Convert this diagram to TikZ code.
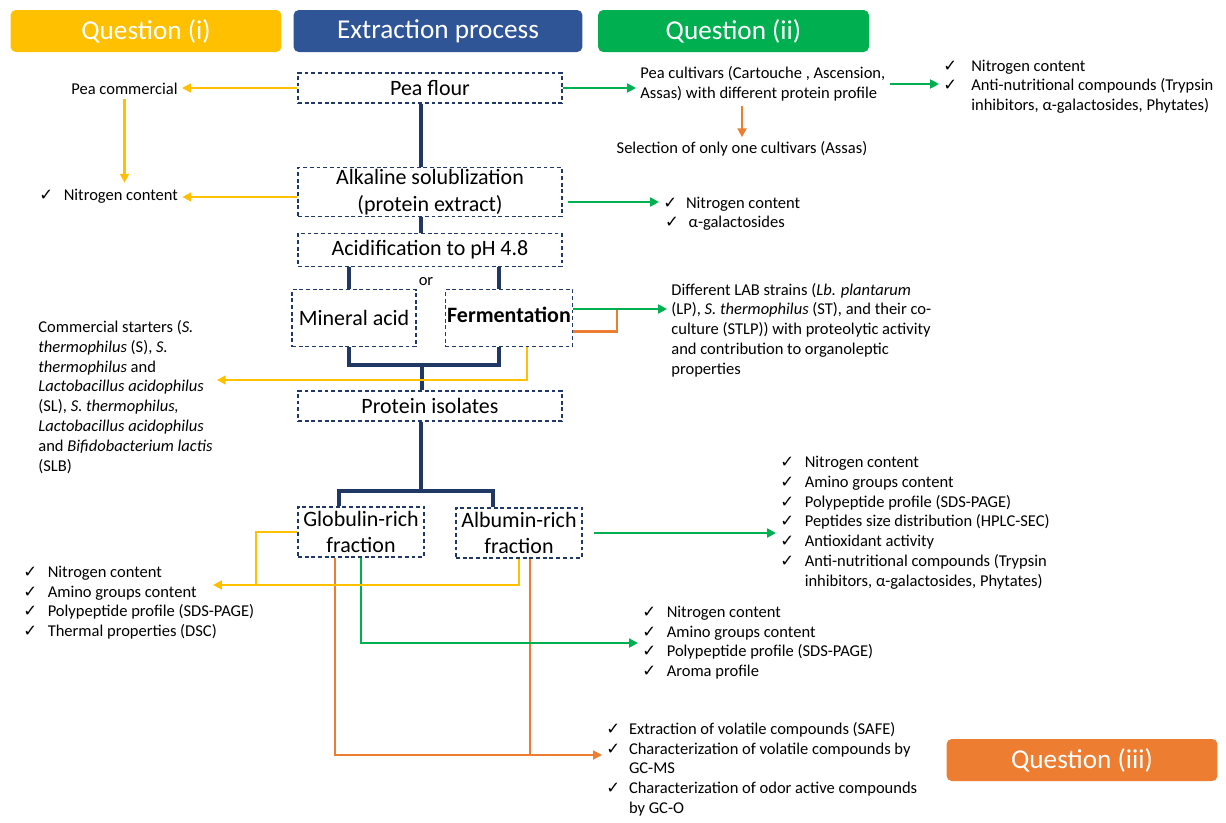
\documentclass[tikz,border=0pt]{standalone}
\usepackage{fontspec}
\setmainfont{Carlito}
\newfontfamily\symfont{DejaVu Sans}
\usetikzlibrary{arrows.meta}
\definecolor{qyellow}{HTML}{FFC000}
\definecolor{qgreen}{HTML}{00B050}
\definecolor{qorange}{HTML}{ED7D31}
\definecolor{hblue}{HTML}{2F5597}
\definecolor{navy}{HTML}{203864}
\newcommand{\chk}{{\symfont ✓}}
\newcommand{\ticklist}[2][6pt]{\begin{tabular}{@{}l@{\hspace{#1}}l@{}}#2\end{tabular}}
\begin{document}
\begin{tikzpicture}[x=0.02cm,y=-0.02cm,
  header/.style={fill=#1, rounded corners=3pt, text=white, font=\fontsize{15.5}{18}\selectfont, minimum height=0.84cm},
  stepbox/.style={draw=navy, line width=0.7pt, dash pattern=on 2.2pt off 1.6pt, fill=white, align=center, font=\fontsize{12.5}{15}\selectfont, inner sep=1pt},
  note/.style={align=left, inner sep=0pt, outer sep=2.5pt, font=\fontsize{9.4}{11.3}\selectfont},
  flow/.style={draw=navy, line width=1.9pt},
  qone/.style={draw=qyellow, line width=1.5pt},
  qtwo/.style={draw=qgreen, line width=1.5pt},
  qthree/.style={draw=qorange, line width=1.5pt},
  qarrow/.style={-{Triangle[length=5pt,width=5pt]}}]
\useasboundingbox (0,0) rectangle (1226,822);

% headers
\node[header=qyellow, minimum width=5.42cm] (qi) at (146,31) {Question (i)};
\node[header=hblue, minimum width=5.78cm] (qext) at (438,31) {Extraction process};
\node[header=qgreen, minimum width=5.42cm] (qii) at (733.5,31) {Question (ii)};
\node[header=qorange, minimum width=5.42cm] (qiii) at (1082,760) {Question (iii)};

% extraction steps
\node[stepbox, minimum width=5.28cm, minimum height=0.6cm] (flour) at (430,88) {Pea flour};
\node[stepbox, minimum width=5.28cm, minimum height=0.96cm] (alk) at (430,192) {Alkaline solublization\\(protein extract)};
\node[stepbox, minimum width=5.28cm, minimum height=0.66cm] (acid) at (430,250) {Acidification to pH 4.8};
\node[note] (or) at (426,282) {or};
\node[stepbox, minimum width=2.48cm, minimum height=1.14cm] (mineral) at (354,318) {Mineral acid};
\node[stepbox, minimum width=2.48cm, minimum height=1.14cm, font={\fontsize{12.5}{15}\selectfont\bfseries}] (ferment) at (509,318) {\raisebox{4pt}{Fermentation}};
\node[stepbox, minimum width=5.28cm, minimum height=0.6cm] (isolate) at (430,406) {Protein isolates};
\node[stepbox, minimum width=2.52cm, minimum height=1.0cm] (glob) at (361,532) {Globulin-rich\\fraction};
\node[stepbox, minimum width=2.52cm, minimum height=1.0cm] (alb) at (519,533) {Albumin-rich\\fraction};

% notes
\node[note, anchor=east] (pcom) at (182,89) {Pea commercial};
\node[note, anchor=west] (nit1) at (35,197) {\ticklist{\chk & Nitrogen content}};
\node[note, anchor=west] (cultiv) at (636,84) {Pea cultivars (Cartouche , Ascension,\\Assas) with different protein profile};
\node[note, anchor=west] (anti1) at (939,87) {\ticklist[8pt]{\chk & Nitrogen content\\ \chk & Anti-nutritional compounds (Trypsin\\ & inhibitors, α-galactosides, Phytates)}};
\node[note] (select) at (742,149) {Selection of only one cultivars (Assas)};
\node[note, anchor=west] (alklist) at (659,214) {\ticklist[4pt]{\chk & Nitrogen content\\ \hspace{1pt}\chk & \hspace{1.5pt}α-galactosides}};
\node[note, anchor=west] (starter) at (34,397) {Commercial starters (\textit{S.}\\\textit{thermophilus} (S), \textit{S.}\\\textit{thermophilus} and\\\textit{Lactobacillus acidophilus}\\(SL), \textit{S. thermophilus,}\\\textit{Lactobacillus acidophilus}\\and \textit{Bifidobacterium lactis}\\(SLB)};
\node[note, anchor=west] (lab) at (667,330) {Different LAB strains (\textit{Lb. plantarum}\\(LP), \textit{S. thermophilus} (ST), and their co-\\culture (STLP)) with proteolytic activity\\and contribution to organoleptic\\properties};
\node[note, anchor=west] (globlist) at (19,603) {\ticklist{\chk & Nitrogen content\\ \chk & Amino groups content\\ \chk & Polypeptide profile (SDS-PAGE)\\ \chk & Thermal properties (DSC)}};
\node[note, anchor=west] (alblist) at (776,523) {\ticklist{\chk & Nitrogen content\\ \chk & Amino groups content\\ \chk & Polypeptide profile (SDS-PAGE)\\ \chk & Peptides size distribution (HPLC-SEC)\\ \chk & Antioxidant activity\\ \chk & Anti-nutritional compounds (Trypsin\\ & inhibitors, α-galactosides, Phytates)}};
\node[note, anchor=west] (aroma) at (638,643) {\ticklist{\chk & Nitrogen content\\ \chk & Amino groups content\\ \chk & Polypeptide profile (SDS-PAGE)\\ \chk & Aroma profile}};
\node[note, anchor=west] (volat) at (602,770) {\ticklist[5pt]{\chk & Extraction of volatile compounds (SAFE)\\ \chk & Characterization of volatile compounds by\\ & GC-MS\\ \chk & Characterization of odor active compounds\\ & by GC-O}};

% bend points
\coordinate (spine) at (421,0);
\coordinate (lacid) at (349,0);
\coordinate (racid) at (499,0);
\coordinate (join1) at (422,365);
\coordinate (join2) at (421,491);
\coordinate (lfrac) at (339,0);
\coordinate (rfrac) at (493,0);
\coordinate (fbend) at (527,380);
\coordinate (gbend) at (256,585);
\coordinate (gtip) at (213,585);
\coordinate (lbend) at (617,309);
\coordinate (alkout) at ([xshift=0.1cm,yshift=-0.2cm]alk.east);
\coordinate (fermout) at ([yshift=-0.27cm]ferment.east);
\coordinate (albout) at ([xshift=0.22cm]alb.east);
\coordinate (oleft) at (335,755);
\coordinate (oright) at (530,755);

% main flow
\draw[flow] (flour.south -| spine) -- (alk.north -| spine);
\draw[flow] (alk.south -| spine) -- (acid.north -| spine);
\draw[flow] (acid.south -| lacid) -- (mineral.north -| lacid);
\draw[flow] (acid.south -| racid) -- (ferment.north -| racid);
\draw[flow] (mineral.south -| lacid) |- (join1) -| (ferment.south -| racid);
\draw[flow] (join1) -- (isolate.north -| join1);
\draw[flow] (isolate.south -| join2) -- (join2);
\draw[flow] (glob.north -| lfrac) |- (join2) -| (alb.north -| rfrac);

% question (iii)
\draw[qthree, qarrow] (select.north |- cultiv.south) -- (select.north);
\draw[qthree] (fermout) -| (lbend);
\draw[qthree, qarrow] (glob.south -| oleft) |- (volat.west |- oleft);
\draw[qthree] (alb.south -| oright) -- (oright);

% question (ii)
\draw[qtwo, qarrow] (flour.east) -- (flour.east -| cultiv.west);
\draw[qtwo, qarrow] (cultiv.east) -- (cultiv.east -| anti1.west);
\draw[qtwo, qarrow] (alkout) -- (alkout -| alklist.west);
\draw[qtwo, qarrow] (ferment.east |- lbend) -- (lab.west |- lbend);
\draw[qtwo, qarrow] (glob.south) |- (aroma.west);
\draw[qtwo, qarrow] (albout) -- (albout -| alblist.west);

% question (i)
\draw[qone, qarrow] (flour.west) -- (flour.west -| pcom.east);
\draw[qone, qarrow] (pcom.south) -- (pcom.south |- nit1.north);
\draw[qone, qarrow] (alk.west |- nit1) -- (nit1.east);
\draw[qone, qarrow] (ferment.south -| fbend) |- (starter.east |- fbend);
\draw[qone] (glob.west) -| (gbend);
\draw[qone, qarrow] (alb.south) |- (gtip);
\end{tikzpicture}
\end{document}
